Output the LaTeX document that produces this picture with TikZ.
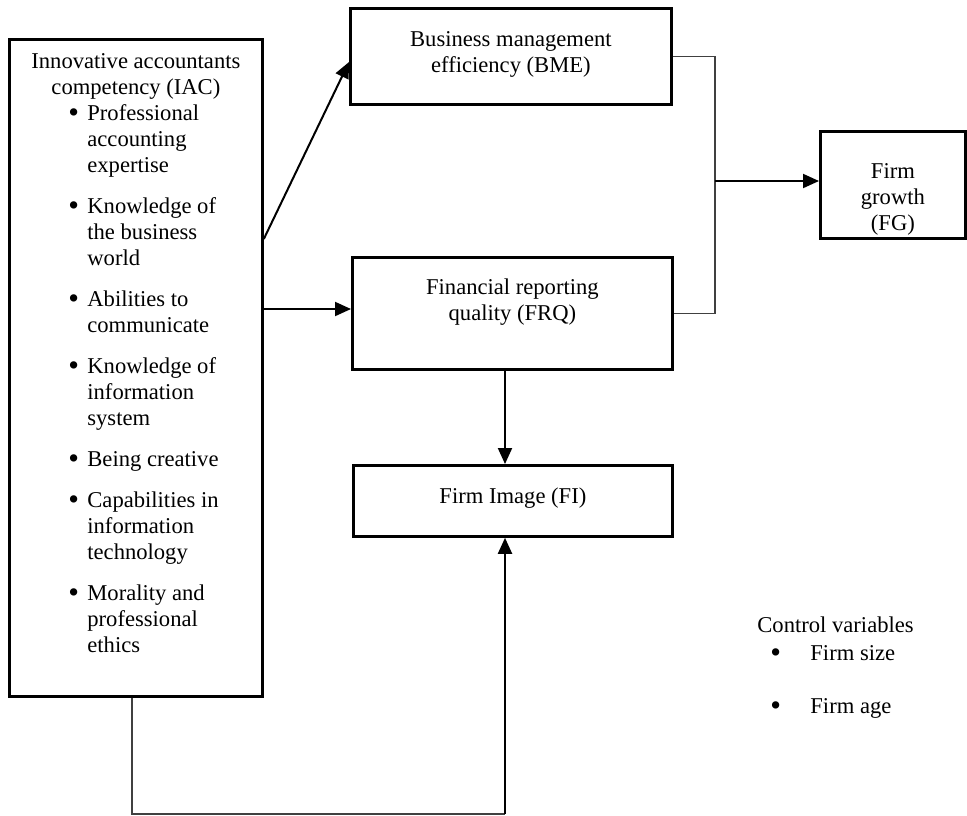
\documentclass[tikz,border=0pt]{standalone}
\usepackage{fontspec}
\setmainfont{Liberation Serif}
\usetikzlibrary{arrows.meta}

% text set at the top of a framed box
\newcommand\boxtext[4]{\parbox[c][#2][t]{#1}{\centering\vspace*{#3}\strut #4}}
\newcommand\bul[1][9.5pt]{\leavevmode\llap{\makebox[#1][l]{\raisebox{-1.2pt}{\scalebox{1.35}{\textbullet}}}}}

\tikzset{
  box/.style={draw, line width=1.4pt, inner sep=0pt, anchor=north west},
  arr/.style={line width=1pt, -{Triangle[length=8pt,width=7pt]}},
  thinln/.style={line width=0.6pt, black!75},
  plain/.style={anchor=base west, inner sep=0pt},
}

\begin{document}
\begin{tikzpicture}[x=0.5pt, y=-0.5pt, font=\fontsize{11.3}{13}\selectfont]
\useasboundingbox (0,0) rectangle (967,815);

\node[box] (iac) at (8,38) {\parbox[c][328.5pt][t]{126.5pt}{%
  \vspace*{5.4pt}\centering\strut Innovative accountants\\ competency (IAC)\par
  \raggedright\leftskip=39pt
  \bul Professional\\ accounting\\ expertise\par\vspace{7.5pt}
  \bul Knowledge of\\ the business\\ world\par\vspace{7.5pt}
  \bul Abilities to\\ communicate\par\vspace{7.5pt}
  \bul Knowledge of\\ information\\ system\par\vspace{7.5pt}
  \bul Being creative\par\vspace{7.5pt}
  \bul Capabilities in\\ information\\ technology\par\vspace{7.5pt}
  \bul Morality and\\ professional\\ ethics\par}};

\node[box] (bme) at (349,7) {\boxtext{160.5pt}{48pt}{10pt}{Business management\\ efficiency (BME)}};
\node[box] (frq) at (351,256) {\boxtext{160pt}{56pt}{9.4pt}{Financial reporting\\ quality (FRQ)}};
\node[box] (fi) at (352,464) {\boxtext{159.5pt}{35.5pt}{10pt}{Firm Image (FI)}};
\node[box] (fg) at (819,130) {\boxtext{72.5pt}{53.5pt}{14.4pt}{Firm\\ growth\\ (FG)}};

\node[plain] (ctrl) at (757,632) {Control variables};
\node[plain] (size) at (810,660) {\bul[20pt]Firm size};
\node[plain] (age) at (810,713) {\bul[20pt]Firm age};

% paths
\coordinate (jn) at (715,181);
\coordinate (lowL) at (132,814);
\coordinate (lowR) at (505,814);

\draw[arr] (iac.east |- 0,239) -- (bme.west |- 0,62);
\draw[arr] (iac.east |- 0,309) -- (frq.west |- 0,309);
\draw[thinln] (bme.east) -| (jn) |- (frq.east);
\draw[arr] (jn) -- (fg.west |- jn);
\draw[arr] (frq.south -| lowR) -- (fi.north -| lowR);
\draw[thinln] (iac.south -| lowL) -- (lowL) -- (lowR);
\draw[arr] (lowR) -- (fi.south -| lowR);
\end{tikzpicture}
\end{document}
